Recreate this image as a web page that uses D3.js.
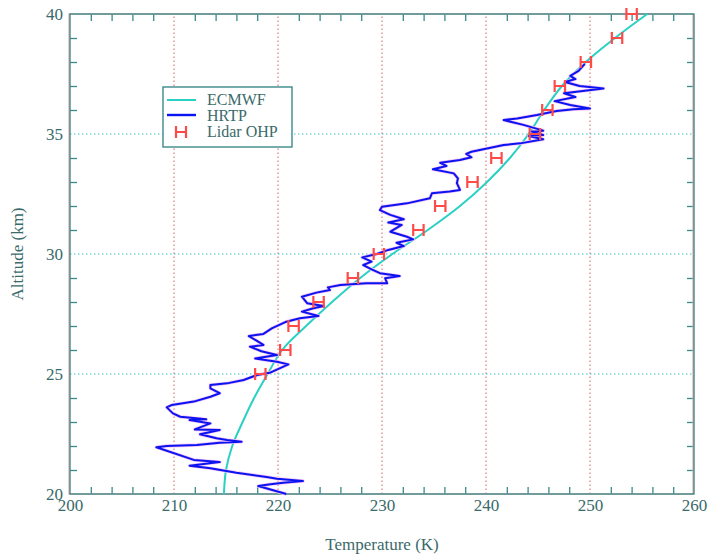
<!DOCTYPE html>
<html>
<head>
<meta charset="utf-8">
<script src="https://d3js.org/d3.v7.min.js"></script>
<style>
    html, body { margin: 0; padding: 0; background: #fff; }
    text { font-family: "Liberation Serif", "Times New Roman", serif; fill: #3a6a6a; }
</style>
</head>
<body>
<div id="chart"></div>
<script>
// ECMWF model profile (K at km)
const ecmwfAlt  = [20, 21, 22, 23, 24, 25, 26, 27, 28, 29, 30, 31, 32, 33, 34, 35, 36, 37, 38, 39, 40];
const ecmwfTemp = [214.8, 215.0, 215.6, 216.6, 217.7, 219.0, 220.4, 222.7, 225.2, 227.9, 231.0, 234.4, 237.5, 240.1, 242.3, 244.1, 245.6, 247.3, 249.6, 252.4, 255.5];

// HRTP retrieved profile
const hrtpTemp = [
    220.8, 218.1, 219.1, 220.5, 222.4, 219.9, 218.9, 216.0, 213.5, 211.5, 214.4, 211.9, 208.3, 209.3, 212.2,
    214.4, 216.5, 215.1, 214.1, 212.5, 214.4, 212.0, 213.5, 211.5, 213.1, 210.6, 209.9, 209.3, 209.8, 211.9,
    213.5, 214.4, 213.5, 213.5, 215.1, 216.7, 218.0, 219.2, 221.0, 219.9, 217.8, 219.9, 218.4, 217.3, 218.6,
    217.9, 217.2, 218.6, 219.4, 220.8, 222.1, 223.9, 222.3, 223.4, 224.4, 222.8, 222.3, 223.7, 225.0, 224.8,
    226.0, 228.5, 230.5, 230.3, 231.7, 229.8, 229.0, 228.2, 229.0, 228.1, 229.5, 230.6, 232.1, 231.4, 233.0,
    232.4, 230.8, 231.9, 230.6, 232.1, 230.8, 229.8, 230.0, 232.4, 234.6, 234.8, 236.5, 237.5, 237.2, 237.3,
    236.9, 234.9, 236.2, 235.6, 237.5, 238.6, 238.1, 238.6, 240.1, 241.7, 243.3, 245.5, 244.1, 245.5, 244.4,
    245.5, 243.6, 241.7, 243.0, 244.9, 246.8, 248.4, 250.0, 248.1, 246.6, 248.6, 247.5, 251.3, 249.0, 247.6,
    248.6, 248.1, 248.9, 249.5
];
const hrtpAlt = [
    20.00, 20.33, 20.40, 20.47, 20.54, 20.64, 20.71, 20.89, 21.07, 21.18, 21.33, 21.42, 21.95, 22.00, 22.04,
    22.14, 22.18, 22.25, 22.32, 22.49, 22.67, 22.69, 22.94, 23.08, 23.11, 23.22, 23.36, 23.61, 23.71, 23.85,
    24.05, 24.20, 24.40, 24.54, 24.61, 24.75, 24.96, 25.05, 25.40, 25.51, 25.65, 25.79, 25.95, 26.14, 26.21,
    26.40, 26.58, 26.67, 26.90, 27.18, 27.32, 27.42, 27.60, 27.74, 27.83, 27.95, 28.22, 28.39, 28.50, 28.61,
    28.71, 28.78, 28.78, 28.99, 29.08, 29.20, 29.36, 29.54, 29.68, 29.86, 30.00, 30.17, 30.33, 30.47, 30.61,
    30.72, 30.93, 31.21, 31.31, 31.45, 31.63, 31.83, 31.97, 32.11, 32.32, 32.53, 32.60, 32.67, 32.95, 33.15,
    33.36, 33.53, 33.67, 33.80, 33.92, 34.03, 34.17, 34.26, 34.40, 34.54, 34.61, 34.78, 34.92, 34.96, 35.10,
    35.14, 35.38, 35.58, 35.65, 35.79, 35.96, 36.03, 36.06, 36.21, 36.37, 36.54, 36.70, 36.90, 37.00, 37.17,
    37.29, 37.42, 37.63, 37.92
];

// Lidar OHP measurements
const lidarAlt  = [25, 26, 27, 28, 29, 30, 31, 32, 33, 34, 35, 36, 37, 38, 39, 40];
const lidarTemp = [218.3, 220.7, 221.5, 223.9, 227.2, 229.7, 233.5, 235.6, 238.7, 241.0, 244.7, 245.9, 247.1, 249.6, 252.6, 254.0];
const lidarErr = 0.5;

const xMajor = [200, 210, 220, 230, 240, 250, 260];
const yMajor = [20, 25, 30, 35, 40];
const xGrid = [210, 220, 230, 240, 250];
const yGrid = [25, 30, 35];

const W = 708, H = 554;
const margin = {top: 14, right: 14, bottom: 60, left: 70};
const axisColor = "#3b8a8a";

const svg = d3.select("#chart").append("svg")
    .attr("width", W).attr("height", H);

const x = d3.scaleLinear().domain([200, 260]).range([margin.left, W - margin.right]);
const y = d3.scaleLinear().domain([20, 40]).range([H - margin.bottom, margin.top]);

const xMinor = d3.range(202, 260, 2).filter(v => v % 10 !== 0);
const yMinor = d3.range(21, 40, 1).filter(v => v % 5 !== 0);

// grid
svg.append("g").selectAll("line").data(xGrid).join("line")
    .attr("x1", d => x(d)).attr("x2", d => x(d))
    .attr("y1", y(20)).attr("y2", y(40))
    .attr("stroke", "#e07a7a").attr("stroke-width", 1.2)
    .attr("stroke-dasharray", "1.5,2.5");
svg.append("g").selectAll("line").data(yGrid).join("line")
    .attr("x1", x(200)).attr("x2", x(260))
    .attr("y1", d => y(d)).attr("y2", d => y(d))
    .attr("stroke", "#3cc4c4").attr("stroke-width", 1.2)
    .attr("stroke-dasharray", "1.5,2.5");

// ticks on all four sides, pointing inward
function ticks(axis, tr) {
    const g = svg.append("g").attr("transform", tr).call(axis);
    g.selectAll(".domain").remove();
    g.selectAll(".tick line").attr("stroke", axisColor).attr("stroke-width", 1.3);
    return g;
}
ticks(d3.axisBottom(x).tickValues(xMinor).tickSize(-7).tickFormat(""), `translate(0,${y(20)})`);
ticks(d3.axisTop(x).tickValues(xMinor).tickSize(-7).tickFormat(""), `translate(0,${y(40)})`);
ticks(d3.axisLeft(y).tickValues(yMinor).tickSize(-7).tickFormat(""), `translate(${x(200)},0)`);
ticks(d3.axisRight(y).tickValues(yMinor).tickSize(-7).tickFormat(""), `translate(${x(260)},0)`);

// labels
const xl = svg.append("g").attr("transform", `translate(0,${y(20)})`)
    .call(d3.axisBottom(x).tickValues(xMajor).tickSize(0).tickPadding(5).tickFormat(d3.format("d")));
xl.select(".domain").remove();
xl.selectAll("text").attr("font-size", 17).attr("font-family", null);
const yl = svg.append("g").attr("transform", `translate(${x(200)},0)`)
    .call(d3.axisLeft(y).tickValues(yMajor).tickSize(0).tickPadding(7).tickFormat(d3.format("d")));
yl.select(".domain").remove();
yl.selectAll("text").attr("font-size", 17).attr("font-family", null);

// frame
svg.append("rect")
    .attr("x", x(200) - 1).attr("y", y(40))
    .attr("width", x(260) - x(200)).attr("height", y(20) - y(40))
    .attr("fill", "none").attr("stroke", "#f0a0a0").attr("stroke-width", 1.2);
svg.append("rect")
    .attr("x", x(200)).attr("y", y(40))
    .attr("width", x(260) - x(200)).attr("height", y(20) - y(40))
    .attr("fill", "none").attr("stroke", axisColor).attr("stroke-width", 1.4);

svg.append("text").attr("x", (x(200) + x(260)) / 2).attr("y", 550)
    .attr("text-anchor", "middle").attr("font-size", 17).text("Temperature (K)");
svg.append("text").attr("transform", `translate(23,${y(30)}) rotate(-90)`)
    .attr("text-anchor", "middle").attr("font-size", 17).text("Altitude (km)");

// ECMWF
const ecmwf = ecmwfAlt.map((a, i) => ({t: ecmwfTemp[i], a}));
svg.append("path").datum(ecmwf)
    .attr("fill", "none").attr("stroke", "#2bd0c4").attr("stroke-width", 2)
    .attr("d", d3.line().x(d => x(d.t)).y(d => y(d.a)).curve(d3.curveCatmullRom));

// HRTP
const hrtp = hrtpAlt.map((a, i) => ({t: hrtpTemp[i], a}));
const hrtpLine = d3.line().x(d => x(d.t)).y(d => y(d.a));
svg.append("path").datum(hrtp)
    .attr("fill", "none").attr("stroke", "#f6c4f6").attr("stroke-width", 3.4).attr("stroke-linejoin", "round")
    .attr("d", hrtpLine);
svg.append("path").datum(hrtp)
    .attr("fill", "none").attr("stroke", "#0a14f0").attr("stroke-width", 2).attr("stroke-linejoin", "round")
    .attr("d", hrtpLine);

// Lidar error bars
function hMarker(g, cx, cy, halfW) {
    const red = "#ff4a4a";
    g.append("line").attr("x1", cx - halfW).attr("x2", cx + halfW).attr("y1", cy).attr("y2", cy)
        .attr("stroke", red).attr("stroke-width", 2);
    [cx - halfW, cx + halfW].forEach(px => g.append("line")
        .attr("x1", px).attr("x2", px).attr("y1", cy - 6).attr("y2", cy + 6)
        .attr("stroke", red).attr("stroke-width", 2.2));
}
const lid = svg.append("g");
lidarAlt.forEach((a, i) => {
    const cx = x(lidarTemp[i]);
    hMarker(lid, cx, y(a), (x(lidarTemp[i] + lidarErr) - x(lidarTemp[i] - lidarErr)) / 2);
});

// legend
const lg = svg.append("g").attr("transform", "translate(163,87)");
lg.append("rect").attr("width", 129).attr("height", 60)
    .attr("fill", "#fff").attr("stroke", axisColor).attr("stroke-width", 1.4);
lg.append("line").attr("x1", 4).attr("x2", 33).attr("y1", 13).attr("y2", 13)
    .attr("stroke", "#2bd0c4").attr("stroke-width", 2);
lg.append("line").attr("x1", 4).attr("x2", 33).attr("y1", 28).attr("y2", 28)
    .attr("stroke", "#0a14f0").attr("stroke-width", 2.4);
hMarker(lg, 18, 45, 5);
[["ECMWF", 18], ["HRTP", 34], ["Lidar OHP", 50]].forEach(([t, yy]) =>
    lg.append("text").attr("x", 44).attr("y", yy).attr("font-size", 16).text(t));
</script>
</body>
</html>
